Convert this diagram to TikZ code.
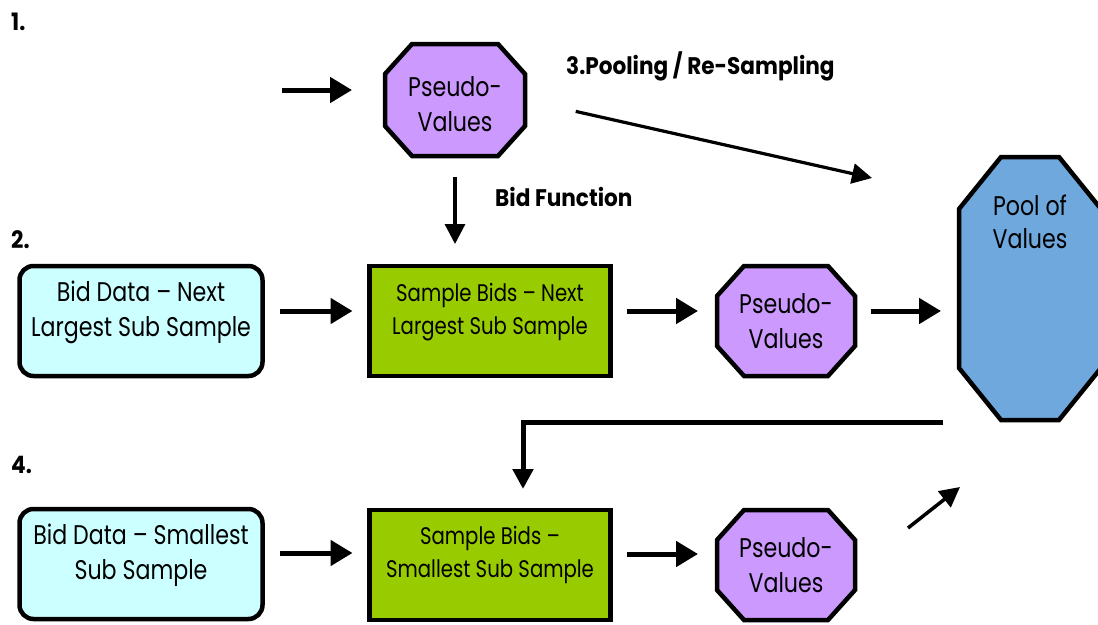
\documentclass[tikz,border=0pt]{standalone}
\usepackage{fontspec}
\setmainfont[FakeStretch=0.82]{Poppins}
\newfontfamily\labelfont[FakeStretch=0.9]{Poppins}
\usetikzlibrary{arrows.meta,backgrounds}

\definecolor{datacyan}{HTML}{CCFFFF}
\definecolor{samplegreen}{HTML}{99CC00}
\definecolor{pseudopurple}{HTML}{CC99FF}
\definecolor{poolblue}{HTML}{6FA8DC}

\tikzset{
  boxtext/.style={font=\fontsize{27}{35}\selectfont, align=center, inner sep=0pt, outer sep=0pt},
  sampletext/.style={boxtext, font=\fontsize{24}{33}\selectfont},
  databox/.style={boxtext, draw=black, line width=4.5pt, rounded corners=14pt, fill=datacyan,
                  minimum width=243pt, minimum height=110pt, text depth=0pt},
  samplebox/.style={boxtext, draw=black, line width=4.5pt, fill=samplegreen,
                  minimum width=241pt, minimum height=110pt},
  steplabel/.style={font=\labelfont\bfseries\fontsize{24}{28}\selectfont, inner sep=0pt, anchor=west},
  bigarrow/.style={line width=5pt, -{Triangle[length=22pt,width=25pt]}},
  thinarrow/.style={line width=3.2pt, -{Triangle[length=20pt,width=20pt]}},
}

% octagon drawn round a named node: #1 node, #2 horizontal cut, #3 vertical cut, #4 fill
\newcommand\octagonround[4]{%
  \begin{pgfonlayer}{background}
  \path[fill=#4, draw=black, line width=4.5pt, line join=miter]
    ([xshift=#2]#1.north west) -- ([xshift=-#2]#1.north east)
    -- ([yshift=-#3]#1.north east) -- ([yshift=#3]#1.south east)
    -- ([xshift=-#2]#1.south east) -- ([xshift=#2]#1.south west)
    -- ([yshift=#3]#1.south west) -- ([yshift=-#3]#1.north west) -- cycle;
  \end{pgfonlayer}}

\begin{document}
\begin{tikzpicture}[x=1pt,y=-1pt]
\useasboundingbox (0,0) rectangle (1098,624);

% step numbers and captions
\node[steplabel] (n1) at (11,22) {1.};
\node[steplabel] (n2) at (11,240) {2.};
\node[steplabel] (n4) at (11,465) {4.};
\node[steplabel] (pooling) at (566,66) {3.Pooling / Re-Sampling};
\node[steplabel] (bidfn) at (495,197) {Bid Function};

% step 1
\node[boxtext, minimum width=140pt, minimum height=112pt] (pv1) at (455,100) {};
\node[boxtext] at (455,104) {Pseudo-\\Values};
\octagonround{pv1}{27pt}{30pt}{pseudopurple}

% step 2
\node[databox] (bd2) at (141,321) {};
\node[boxtext] at (141,312) {Bid Data -- Next\\Largest Sub Sample};
\node[samplebox] (sb2) at (490,321) {};
\node[sampletext] at (490,312.5) {Sample Bids -- Next\\Largest Sub Sample};
\node[boxtext, minimum width=138pt, minimum height=110pt] (pv2) at (786,321) {Pseudo-\\Values};
\octagonround{pv2}{27pt}{30pt}{pseudopurple}

% pool
\node[boxtext, minimum width=142pt, minimum height=263pt] (pool) at (1030,288.5) {};
\node[boxtext, font=\fontsize{27}{33}\selectfont] at (1030,222) {Pool of\\Values};
\octagonround{pool}{42pt}{52pt}{poolblue}

% step 4
\node[databox] (bd4) at (141,564) {};
\node[boxtext] at (141,555) {Bid Data -- Smallest\\Sub Sample};
\node[samplebox] (sb4) at (490,565) {};
\node[sampletext] at (490,555) {Sample Bids --\\Smallest Sub Sample};
\node[boxtext, minimum width=138pt, minimum height=110pt] (pv4) at (786,565) {Pseudo-\\Values};
\octagonround{pv4}{27pt}{30pt}{pseudopurple}

% free ends of connectors
\coordinate (in1) at (282,90);
\coordinate (pooltip) at (872,178);
\coordinate (ret) at (943,422);
\coordinate (up0) at (908,528);
\coordinate (up1) at (960,487);

% connectors
\draw[bigarrow] (in1) -- (in1 -| pv1.west) [shorten >=33pt];
\draw[thinarrow, shorten <=52pt] (pv1.east) -- (pooltip);
\draw[thinarrow, shorten <=21pt, shorten >=22pt] (pv1.south) -- (pv1.south |- sb2.north);

\draw[bigarrow, shorten <=17pt, shorten >=17pt] ([yshift=10pt]bd2.east) -- ([yshift=10pt]sb2.west);
\draw[bigarrow, shorten <=16pt, shorten >=19pt] ([yshift=10pt]sb2.east) -- ([yshift=10pt]pv2.west);
\draw[bigarrow, shorten <=16pt, shorten >=18pt] ([yshift=10pt]pv2.east) -- ([yshift=10pt]pool.west |- pv2.east);

\draw[thinarrow, line width=5pt] (ret) -| ([xshift=33pt]sb4.north) [shorten >=21pt];

\draw[bigarrow, shorten <=17pt, shorten >=17pt] ([yshift=11pt]bd4.east) -- ([yshift=11pt]bd4.east -| sb4.west);
\draw[bigarrow, shorten <=16pt, shorten >=19pt] ([yshift=11pt]sb4.east) -- ([yshift=11pt]sb4.east -| pv4.west);
\draw[thinarrow, line width=3.5pt] (up0) -- (up1);
\end{tikzpicture}
\end{document}
